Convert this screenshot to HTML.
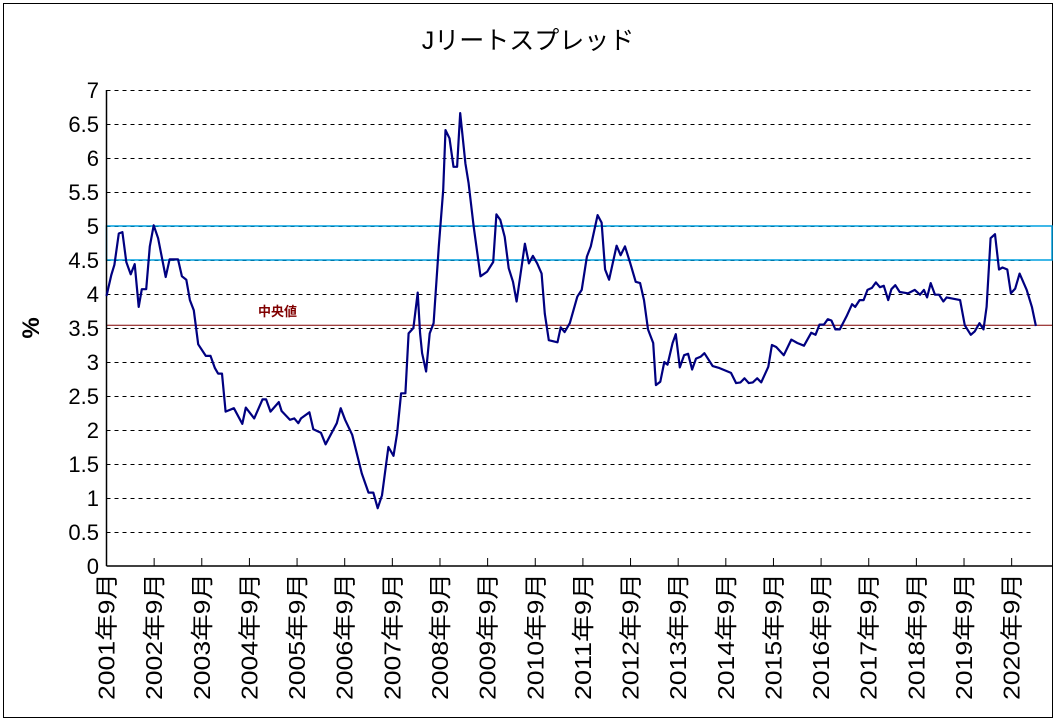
<!DOCTYPE html>
<html><head><meta charset="utf-8"><style>
html,body{margin:0;padding:0;background:#fff;}
svg{display:block;font-family:"Liberation Sans","Noto Sans CJK JP",sans-serif;}
</style></head><body>
<svg id="chart" width="1056" height="722" viewBox="0 0 1056 722">
<rect x="3.5" y="3.5" width="1049" height="714" fill="#fff" stroke="#000" stroke-width="1"/>
<text x="528" y="49" font-size="25" text-anchor="middle" fill="#000">Jリートスプレッド</text>
<text x="0" y="0" font-size="24" font-weight="bold" text-anchor="middle" transform="translate(39,328) rotate(-90)">%</text>
<g id="grid"></g><g id="bands"></g><g id="yticks"></g><g id="xticks"></g><g id="series"></g>
<text x="258" y="316" font-size="13" font-weight="bold" fill="#800000">中央値</text>
</svg>
<script>
const yTicks=[0,0.5,1,1.5,2,2.5,3,3.5,4,4.5,5,5.5,6,6.5,7];
const yTickLabels=["0","0.5","1","1.5","2","2.5","3","3.5","4","4.5","5","5.5","6","6.5","7"];
const xTickLabels=["2001年9月","2002年9月","2003年9月","2004年9月","2005年9月","2006年9月","2007年9月","2008年9月","2009年9月","2010年9月","2011年9月","2012年9月","2013年9月","2014年9月","2015年9月","2016年9月","2017年9月","2018年9月","2019年9月","2020年9月"];
const medianValue=3.54;
const bandLow=4.5, bandHigh=5.0;
const months=[0,1.2,2.0,3.1,4.0,5.0,6.1,7.1,8.1,8.9,10.0,10.9,11.9,13.0,14.9,15.9,18.0,19.0,20.1,21.0,22.0,23.1,25.0,26.2,27.3,28.1,29.1,30.0,32.1,34.2,35.1,37.2,39.3,40.2,41.3,43.4,44.1,46.2,47.3,48.3,49.0,51.1,52.1,54.0,55.2,58.0,59.0,60.1,61.9,64.3,66.0,67.2,68.3,69.4,71.0,72.3,73.2,74.2,75.3,76.1,77.3,78.4,79.0,79.5,80.5,81.4,82.4,83.7,84.8,85.4,86.4,87.4,88.3,88.7,89.1,90.4,91.2,92.5,94.2,95.9,97.4,98.2,99.2,100.3,101.3,102.4,103.3,104.3,105.4,106.4,107.4,108.5,109.6,110.4,111.4,113.6,114.4,115.4,116.7,118.6,119.7,121.0,122.0,123.7,124.7,125.6,126.6,128.5,129.5,130.6,131.9,133.3,134.4,135.4,136.4,137.7,138.4,139.5,140.5,141.3,142.6,143.4,144.4,145.5,146.5,147.5,148.5,149.7,150.6,152.7,154.4,157.3,158.6,159.7,160.7,161.8,162.8,163.9,164.9,166.7,167.6,168.7,170.6,172.5,174.0,175.7,177.5,178.6,179.6,180.7,181.7,182.6,183.6,184.7,186.4,187.8,188.6,189.7,190.7,191.7,192.8,193.8,194.8,195.8,196.9,197.7,198.7,199.8,201.9,203.6,204.9,205.9,206.7,207.6,208.7,209.7,210.8,211.6,215.0,216.2,217.7,218.7,219.9,220.9,221.7,222.7,223.8,224.8,225.7,226.9,227.8,228.9,230.0,231.8,233.1,234.1];
const spreadValues=[3.97,4.28,4.43,4.89,4.91,4.47,4.29,4.44,3.81,4.07,4.07,4.70,5.01,4.82,4.25,4.51,4.51,4.26,4.21,3.91,3.76,3.26,3.09,3.09,2.91,2.83,2.83,2.27,2.32,2.09,2.33,2.17,2.45,2.45,2.27,2.41,2.28,2.15,2.17,2.10,2.17,2.26,2.01,1.96,1.79,2.10,2.32,2.15,1.93,1.36,1.08,1.08,0.85,1.04,1.75,1.62,1.95,2.54,2.54,3.42,3.50,4.02,3.42,3.13,2.86,3.42,3.57,4.70,5.53,6.41,6.29,5.87,5.87,6.26,6.66,5.92,5.63,4.99,4.26,4.33,4.47,5.17,5.09,4.84,4.38,4.18,3.89,4.30,4.74,4.45,4.56,4.45,4.30,3.71,3.32,3.29,3.51,3.44,3.57,3.96,4.06,4.55,4.70,5.16,5.05,4.36,4.21,4.71,4.57,4.70,4.46,4.18,4.16,3.91,3.48,3.28,2.66,2.71,3.00,2.96,3.28,3.41,2.92,3.10,3.12,2.89,3.05,3.08,3.13,2.94,2.91,2.84,2.69,2.70,2.76,2.69,2.70,2.76,2.70,2.93,3.25,3.22,3.10,3.33,3.28,3.24,3.43,3.40,3.55,3.55,3.63,3.61,3.48,3.48,3.67,3.85,3.81,3.91,3.91,4.06,4.09,4.17,4.10,4.12,3.91,4.07,4.13,4.03,4.01,4.06,3.99,4.06,3.95,4.16,3.99,3.99,3.89,3.95,3.91,3.54,3.40,3.45,3.57,3.48,3.81,4.82,4.88,4.36,4.39,4.36,4.01,4.08,4.30,4.06,3.81,3.53];

const NS="http://www.w3.org/2000/svg";
const X0=106.5, Xend=1052, Y0=566, PX_PER_UNIT=68, PX_PER_MONTH=3.97;
function xScale(m){return X0+m*PX_PER_MONTH;}
function yScale(v){return Y0-v*PX_PER_UNIT;}
function mk(tag,attrs,parent){const e=document.createElementNS(NS,tag);for(const k in attrs)e.setAttribute(k,attrs[k]);parent.appendChild(e);return e;}

const grid=document.getElementById('grid');
yTicks.forEach((v,i)=>{
  if(v===0)return;
  const l=mk('line',{x1:X0,x2:1033,y1:yScale(v)+0.5,y2:yScale(v)+0.5,stroke:'#000','stroke-width':1,'stroke-dasharray':'4,4'},grid);
  
  
});
const bands=document.getElementById('bands');
const band=mk('rect',{x:X0,y:yScale(bandHigh),width:Xend-X0,height:yScale(bandLow)-yScale(bandHigh),fill:'none',stroke:'#00a0e0','stroke-width':1.5},bands);


const med=mk('line',{x1:X0,x2:Xend,y1:yScale(medianValue),y2:yScale(medianValue),stroke:'#800000','stroke-width':1},bands);



const yt=document.getElementById('yticks');
const ax=mk('line',{x1:X0,x2:X0,y1:yScale(7),y2:Y0,stroke:'#000','stroke-width':1.5},yt);


yTicks.forEach((v,i)=>{
  const t=mk('text',{x:99,y:yScale(v)+8,'font-size':22,'text-anchor':'end',fill:'#000'},yt);
  t.textContent=yTickLabels[i];
  
  
});
const xt=document.getElementById('xticks');
const xa=mk('line',{x1:X0,x2:Xend,y1:Y0,y2:Y0,stroke:'#000','stroke-width':1.5},xt);


xTickLabels.forEach((lab,i)=>{
  const x=xScale(i*12);
  if(i>0){
    const tk=mk('line',{x1:x,x2:x,y1:Y0-8,y2:Y0,stroke:'#000','stroke-width':1},xt);
    
    
  }
  const t=mk('text',{x:0,y:0,'font-size':23,'text-anchor':'start',fill:'#000',textLength:127,lengthAdjust:'spacingAndGlyphs',transform:`translate(${x+8},700) rotate(-90)`},xt);
  t.textContent=lab;
  
  
});
const s=document.getElementById('series');
const pts=months.map((m,i)=>xScale(m).toFixed(1)+','+yScale(spreadValues[i]).toFixed(1)).join(' ');
const pl=mk('polyline',{points:pts,fill:'none',stroke:'#000080','stroke-width':2.2,'stroke-linejoin':'round'},s);


</script>
</body></html>
